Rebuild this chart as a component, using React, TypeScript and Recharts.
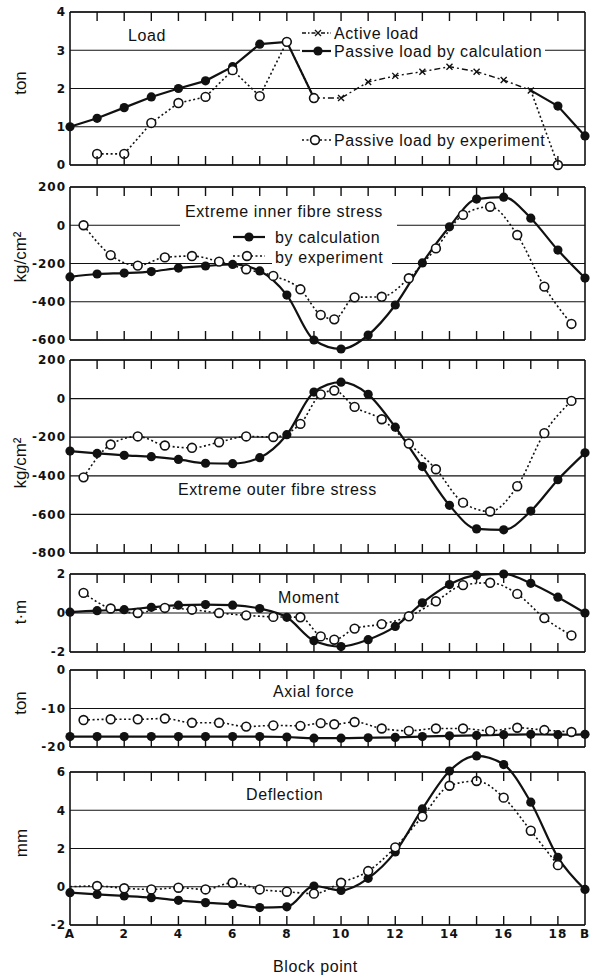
import React from "react";
import { CartesianGrid, Line, LineChart, ReferenceLine, XAxis, YAxis } from "recharts";

// block points: A = 0, 1 ... 18, B = 19
const blocks = [0, 1, 2, 3, 4, 5, 6, 7, 8, 9, 10, 11, 12, 13, 14, 15, 16, 17, 18, 19];
const innerTicks = [1, 2, 3, 4, 5, 6, 7, 8, 9, 10, 11, 12, 13, 14, 15, 16, 17, 18];
const blockLabelTicks = [0, 2, 4, 6, 8, 10, 12, 14, 16, 18, 19];
// measuring points of the experiment (between blocks)
const gauges = [0.5, 1.5, 2.5, 3.5, 4.5, 5.5, 6.5, 7.5, 8.5, 9.25, 9.75, 10.5, 11.5, 12.5, 13.5, 14.5, 15.5, 16.5, 17.5, 18.5];

// Load (ton)
const loadCalc = [1.0, 1.22, 1.5, 1.78, 2.0, 2.2, 2.57, 3.16, 3.22, 1.75, null, null, null, null, null, null, null, 1.95, 1.54, 0.76];
const loadActiveX = [9, 10, 11, 12, 13, 14, 15, 16, 17];
const loadActive = [1.75, 1.75, 2.17, 2.33, 2.44, 2.57, 2.44, 2.22, 1.95];
const loadExpX = [1, 2, 3, 4, 5, 6, 7, 8, 9, 10, 11, 12, 13, 14, 15, 16, 17, 18];
const loadExp = [0.29, 0.29, 1.1, 1.62, 1.78, 2.48, 1.8, 3.22, 1.75, null, null, null, null, null, null, null, 1.95, 0];

// Extreme inner fibre stress (kg/cm2)
const innerCalc = [-270, -255, -250, -242, -224, -213, -205, -239, -365, -600, -647, -574, -417, -197, -8, 137, 147, 37, -130, -276];
const innerExp = [0, -156, -211, -168, -161, -190, -230, -265, -335, -469, -492, -377, -374, -277, -121, 54, 97, -51, -321, -516];

// Extreme outer fibre stress (kg/cm2)
const outerCalc = [-272, -284, -294, -301, -315, -335, -337, -306, -187, 34, 85, 22, -148, -352, -553, -675, -680, -583, -420, -281];
const outerExp = [-408, -238, -196, -243, -255, -226, -196, -199, -131, 22, 42, -43, -107, -233, -366, -539, -585, -454, -179, -12];

// Moment (t.m)
const momentCalc = [0.04, 0.12, 0.17, 0.29, 0.4, 0.43, 0.4, 0.23, -0.22, -1.42, -1.72, -1.37, -0.69, 0.52, 1.46, 1.94, 2.0, 1.52, 0.81, 0];
const momentExp = [1.03, 0.23, 0, 0.26, 0.17, 0, -0.12, -0.2, -0.22, -1.2, -1.37, -0.8, -0.57, -0.17, 0.6, 1.43, 1.55, 0.98, -0.26, -1.15];

// Axial force (ton)
const axialCalc = [-17.3, -17.3, -17.3, -17.3, -17.3, -17.3, -17.3, -17.3, -17.4, -17.7, -17.7, -17.6, -17.5, -17.3, -17.1, -17.0, -16.8, -16.7, -16.8, -16.7];
const axialExp = [-13.0, -12.8, -12.8, -12.6, -13.7, -13.7, -14.7, -14.4, -14.5, -13.8, -14.1, -13.5, -15.2, -15.8, -15.2, -15.2, -15.8, -15.0, -15.6, -16.1];

// Deflection (mm)
const deflCalc = [-0.31, -0.4, -0.48, -0.57, -0.71, -0.83, -0.92, -1.09, -1.05, 0.04, -0.19, 0.44, 1.82, 4.07, 6.05, 6.84, 6.39, 4.42, 1.54, -0.14];
const deflExpX = [0, 1, 2, 3, 4, 5, 6, 7, 8, 9, 10, 11, 12, 13, 14, 15, 16, 17, 18];
const deflExp = [0, 0.04, -0.08, -0.14, -0.05, -0.14, 0.21, -0.14, -0.26, -0.36, 0.21, 0.82, 2.06, 3.67, 5.28, 5.53, 4.66, 2.93, 1.13];

const pts = (xs: number[], ys: (number | null)[]) => xs.map((x, i) => ({ x, y: ys[i] }));

const FONT = "'Liberation Sans', Arial, sans-serif";
const TICK_FONT = "'DejaVu Sans', sans-serif";
const INK = "#111";

// page layout of the plot frames
const PLOT_L = 70;
const PLOT_R = 585;
const FRAMES = [
  { top: 12, bottom: 165 },
  { top: 187, bottom: 340 },
  { top: 360, bottom: 553 },
  { top: 574, bottom: 652 },
  { top: 670, bottom: 747 },
  { top: 772, bottom: 925 },
];
const blockX = (t: number) => PLOT_L + ((PLOT_R - PLOT_L) * t) / 19;

type Kind = "filled" | "open" | "cross";

function dot(kind: Kind, skip: number[] = []) {
  return (p: any) => {
    const { cx, cy, index, payload } = p;
    const k = `d${index}`;
    if (cx == null || cy == null || payload?.y == null || skip.includes(payload.x)) {
      return <g key={k} />;
    }
    if (kind === "filled") return <circle key={k} cx={cx} cy={cy} r={4.6} fill={INK} />;
    if (kind === "open") return <circle key={k} cx={cx} cy={cy} r={4.4} fill="#fff" stroke={INK} strokeWidth={1.6} />;
    return (
      <path key={k} d={`M${cx - 3},${cy - 3}L${cx + 3},${cy + 3}M${cx - 3},${cy + 3}L${cx + 3},${cy - 3}`} stroke={INK} strokeWidth={1.4} />
    );
  };
}

const calcLine = { stroke: INK, strokeWidth: 2.2, isAnimationActive: false, dataKey: "y" } as const;
const expLine = { stroke: INK, strokeWidth: 1.6, strokeDasharray: "2 2.5", isAnimationActive: false, dataKey: "y" } as const;

function Panel({
  frame,
  ticks,
  labels = false,
  children,
}: {
  frame: { top: number; bottom: number };
  ticks: number[];
  labels?: boolean;
  children: React.ReactNode;
}) {
  const { top, bottom } = frame;
  const mt = 24;
  const mb = 24;
  const lab = labels ? 22 : 0;
  const h = bottom - top + mt + mb + lab;
  const border = { stroke: INK, strokeWidth: 1.6 };
  const tickFont = { fontSize: 12, fontFamily: TICK_FONT, fontWeight: 700, fill: INK };
  const lo = ticks[0];
  const hi = ticks[ticks.length - 1];
  return (
    <div style={{ position: "absolute", left: 0, top: top - mt }}>
      <LineChart width={592} height={h} margin={{ top: mt, right: 592 - PLOT_R, bottom: mb, left: PLOT_L - 60 }}>
        <CartesianGrid vertical={false} stroke={INK} strokeWidth={1.2} />
        <XAxis
          type="number"
          dataKey="x"
          domain={[0, 19]}
          ticks={labels ? blockLabelTicks : innerTicks}
          interval={0}
          height={labels ? 22 : 0}
          hide={!labels}
          tickSize={0}
          tickMargin={4}
          axisLine={false}
          tickLine={false}
          tickFormatter={(v: number) => (v === 0 ? "A" : v === 19 ? "B" : String(v))}
          tick={tickFont}
        />
        <YAxis
          type="number"
          dataKey="y"
          domain={[lo, hi]}
          ticks={ticks}
          interval={0}
          allowDataOverflow
          width={60}
          tickSize={0}
          tickMargin={4}
          tickLine={false}
          axisLine={border}
          tick={tickFont}
        />
        <ReferenceLine y={hi} stroke={INK} strokeWidth={1.6} />
        <ReferenceLine y={lo} stroke={INK} strokeWidth={1.6} />
        <ReferenceLine x={19} stroke={INK} strokeWidth={1.6} />
        {children}
      </LineChart>
    </div>
  );
}

function Txt({ x, y, children, size = 16 }: { x: number; y: number; children: React.ReactNode; size?: number }) {
  return (
    <text x={x} y={y} fontSize={size} fontFamily={FONT} fill={INK} letterSpacing={0.6}>
      {children}
    </text>
  );
}

function Unit({ x, y, children }: { x: number; y: number; children: React.ReactNode }) {
  return (
    <text
      x={x}
      y={y}
      fontSize={17}
      fontFamily={FONT}
      fill={INK}
      textAnchor="middle"
      dominantBaseline="central"
      transform={`rotate(-90 ${x} ${y})`}
    >
      {children}
    </text>
  );
}

export default function App() {
  return (
    <div style={{ position: "absolute", left: 0, top: 0, width: 592, height: 979, background: "#fff" }}>
      <style>{"svg [clip-path]{clip-path:none !important}.recharts-surface{overflow:visible}.recharts-cartesian-axis-tick-value{letter-spacing:1px}"}</style>

      <Panel frame={FRAMES[0]} ticks={[0, 1, 2, 3, 4]}>
        <Line {...calcLine} type="linear" data={pts(blocks, loadCalc)} dot={dot("filled", [17])} />
        <Line
          {...calcLine}
          type="linear"
          strokeWidth={1.4}
          strokeDasharray="6 3 2 3"
          data={pts(loadActiveX, loadActive)}
          dot={dot("cross", [9])}
        />
        <Line {...expLine} type="linear" data={pts(loadExpX, loadExp)} dot={dot("open", [17])} />
      </Panel>

      <Panel frame={FRAMES[1]} ticks={[-600, -400, -200, 0, 200]}>
        <Line {...calcLine} type="monotone" data={pts(blocks, innerCalc)} dot={dot("filled")} />
        <Line {...expLine} type="monotone" data={pts(gauges, innerExp)} dot={dot("open")} />
      </Panel>

      <Panel frame={FRAMES[2]} ticks={[-800, -600, -400, -200, 0, 200]}>
        <Line {...calcLine} type="monotone" data={pts(blocks, outerCalc)} dot={dot("filled")} />
        <Line {...expLine} type="monotone" data={pts(gauges, outerExp)} dot={dot("open")} />
      </Panel>

      <Panel frame={FRAMES[3]} ticks={[-2, 0, 2]}>
        <Line {...calcLine} type="monotone" data={pts(blocks, momentCalc)} dot={dot("filled")} />
        <Line {...expLine} type="monotone" data={pts(gauges, momentExp)} dot={dot("open")} />
      </Panel>

      <Panel frame={FRAMES[4]} ticks={[-20, -10, 0]}>
        <Line {...calcLine} type="monotone" data={pts(blocks, axialCalc)} dot={dot("filled")} />
        <Line {...expLine} type="monotone" data={pts(gauges, axialExp)} dot={dot("open")} />
      </Panel>

      <Panel frame={FRAMES[5]} ticks={[-2, 0, 2, 4, 6]} labels>
        <Line {...calcLine} type="monotone" data={pts(blocks, deflCalc)} dot={dot("filled")} />
        <Line {...expLine} type="monotone" data={pts(deflExpX, deflExp)} dot={dot("open", [0])} />
      </Panel>

      <svg width={592} height={979} style={{ position: "absolute", left: 0, top: 0, pointerEvents: "none" }}>
        {/* inward block-point ticks on the top and bottom edge of every frame */}
        {FRAMES.map((f, fi) =>
          innerTicks.map((t) => (
            <g key={`k${fi}-${t}`}>
              <line x1={blockX(t)} y1={f.top} x2={blockX(t)} y2={f.top + 9} stroke={INK} strokeWidth={1.4} />
              <line x1={blockX(t)} y1={f.bottom} x2={blockX(t)} y2={f.bottom - 9} stroke={INK} strokeWidth={1.4} />
            </g>
          ))
        )}

        {/* units */}
        <Unit x={20} y={83}>ton</Unit>
        <Unit x={20} y={257}>kg/cm²</Unit>
        <Unit x={20} y={463}>kg/cm²</Unit>
        <Unit x={20} y={612}>t·m</Unit>
        <Unit x={20} y={703}>ton</Unit>
        <Unit x={21} y={843}>mm</Unit>

        {/* load legend */}
        <Txt x={128} y={41}>Load</Txt>
        <line x1={302} y1={33} x2={331} y2={33} stroke={INK} strokeWidth={1.4} strokeDasharray="4 2 1.5 2" />
        <path d="M315,30L321,36M315,36L321,30" stroke={INK} strokeWidth={1.4} />
        <Txt x={334} y={39}>Active load</Txt>
        <rect x={300} y={44} width={245} height={15} fill="#fff" />
        <line x1={302} y1={51} x2={331} y2={51} stroke={INK} strokeWidth={2.2} />
        <circle cx={318} cy={51} r={4.6} fill={INK} />
        <Txt x={334} y={57}>Passive load by calculation</Txt>
        <line x1={302} y1={140} x2={331} y2={140} stroke={INK} strokeWidth={1.6} strokeDasharray="2 2.5" />
        <circle cx={315} cy={140} r={4.4} fill="#fff" stroke={INK} strokeWidth={1.6} />
        <Txt x={334} y={146}>Passive load by experiment</Txt>

        {/* inner stress */}
        <rect x={180} y={219} width={217} height={10} fill="#fff" />
        <rect x={272} y={253} width={120} height={14} fill="#fff" />
        <Txt x={185} y={217}>Extreme inner fibre stress</Txt>
        <line x1={233} y1={237} x2={265} y2={237} stroke={INK} strokeWidth={2.2} />
        <circle cx={249} cy={237} r={4.6} fill={INK} />
        <Txt x={275} y={243}>by calculation</Txt>
        <line x1={233} y1={256} x2={265} y2={256} stroke={INK} strokeWidth={1.6} strokeDasharray="2 2.5" />
        <circle cx={247} cy={256} r={4.4} fill="#fff" stroke={INK} strokeWidth={1.6} />
        <Txt x={275} y={263}>by experiment</Txt>

        <Txt x={178} y={495}>Extreme outer fibre stress</Txt>
        <Txt x={278} y={603}>Moment</Txt>
        <Txt x={273} y={697}>Axial force</Txt>
        <Txt x={246} y={800}>Deflection</Txt>
        <Txt x={273} y={972}>Block point</Txt>
      </svg>
    </div>
  );
}
